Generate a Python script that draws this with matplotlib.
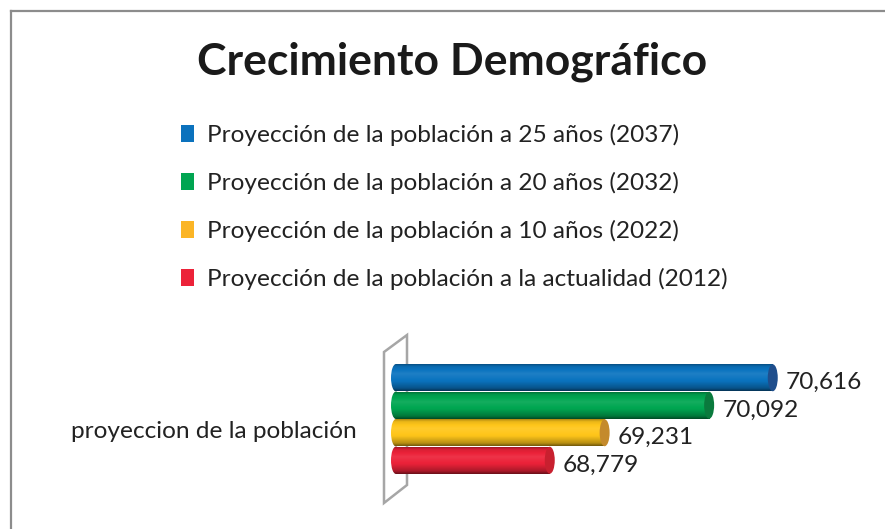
import numpy as np
import matplotlib
matplotlib.use('Agg')
import matplotlib.pyplot as plt
from matplotlib.patches import Rectangle, Ellipse, Polygon, Patch
from matplotlib.lines import Line2D
from matplotlib.colors import to_rgb

# Data
series = ['Proyección de la población a 25 años (2037)',
          'Proyección de la población a 20 años (2032)',
          'Proyección de la población a 10 años (2022)',
          'Proyección de la población a la actualidad (2012)']
values = [70616, 70092, 69231, 68779]
category = 'proyeccion de la población'
title = 'Crecimiento Demográfico'

# Styles
bar_colors = ['#0B74C0', '#00A651', '#FFC61A', '#EC2239']
legend_colors = ['#0B72BD', '#00A551', '#FBB526', '#EC2239']
cap_colors = ['#1F4E8C', '#0A7A3D', '#C48A2C', '#C8202F']
font = ['Lato', 'DejaVu Sans']
plt.rcParams['font.family'] = font
fs = 17.6

W, H = 885, 529
fig = plt.figure(figsize=(W / 100, H / 100), dpi=100, facecolor='white')

# pixel helpers
def fx(px):
    return px / W

def fy(py):
    return 1 - py / H

# chart border (only top and left visible)
fig.add_artist(Line2D([fx(11), 1], [fy(11), fy(11)], color='#8c8c8c', lw=1.6))
fig.add_artist(Line2D([fx(11), fx(11)], [fy(11), 0], color='#8c8c8c', lw=1.6))

# 3D wall behind the bars
wall = Polygon([(fx(384), fy(352)), (fx(407), fy(335)), (fx(407), fy(485)),
                (fx(384), fy(503))], closed=True, fill=False,
               edgecolor='#a6a6a6', lw=1.8, transform=fig.transFigure, zorder=-5)
fig.add_artist(wall)

# bars axes
units_per_px = 8.238
xmin = 67430
ax = fig.add_axes([fx(391), fy(474), fx(880) - fx(391), (474 - 364) / H])
ax.axis('off')
ax.patch.set_visible(False)

t = np.linspace(0, 1, 64)
prof = np.interp(t, [0, 0.1, 0.35, 0.62, 0.88, 1.0],
                 [0.45, 0.72, 0.98, 1.08, 0.92, 0.6])


def shade(rgb, f):
    rgb = np.array(rgb)
    if f < 1:
        return rgb * f
    return rgb + (1 - rgb) * (f - 1)


rx = 5 * units_per_px
for i, (v, c, cc) in enumerate(zip(values, bar_colors, cap_colors)):
    y = len(values) - 1 - i
    rgb = to_rgb(c)
    grad = np.array([shade(rgb, f) for f in prof]).reshape(-1, 1, 3)
    # body
    rect = Rectangle((xmin + rx, y - 0.5), v - 2 * rx - xmin, 1.0,
                     facecolor='none', edgecolor='none')
    ax.add_patch(rect)
    im = ax.imshow(grad, extent=[xmin, v - rx, y - 0.5, y + 0.5],
                   origin='lower', aspect='auto', interpolation='bilinear')
    im.set_clip_path(rect)
    # left rounded end
    el = Ellipse((xmin + rx, y), 2 * rx, 1.0, facecolor='none', edgecolor='none')
    ax.add_patch(el)
    im2 = ax.imshow(grad, extent=[xmin, v - rx, y - 0.5, y + 0.5],
                    origin='lower', aspect='auto', interpolation='bilinear')
    im2.set_clip_path(el)
    # right end cap
    cap = Ellipse((v - rx, y), 2 * rx, 0.98, facecolor=cc, edgecolor='none')
    ax.add_patch(cap)
    # value label
    ax.annotate(f'{v:,}', xy=(v, y), xytext=(8, -5), textcoords='offset pixels',
                ha='left', va='center', fontsize=fs, color='#222222')

ax.set_xlim(xmin, xmin + (880 - 391) * units_per_px)
ax.set_ylim(-0.5, len(values) - 0.5)

# category label
fig.text(fx(357), fy(432), category, ha='right', va='center', fontsize=fs,
         color='#222222')

# title
fig.text(fx(452), fy(62), title, ha='center', va='center', fontsize=32,
         fontweight='bold', color='#1a1a1a')

# legend
handles = [Patch(facecolor=c, edgecolor='none') for c in legend_colors]
fig.legend(handles, series, loc='upper left', bbox_to_anchor=(fx(181), fy(124)),
           frameon=False, fontsize=fs, handlelength=0.55, handleheight=0.7,
           handletextpad=0.5, labelspacing=1.06, borderpad=0, borderaxespad=0,
           labelcolor='#222222')

fig.savefig('out.png', dpi=100, facecolor='white')
